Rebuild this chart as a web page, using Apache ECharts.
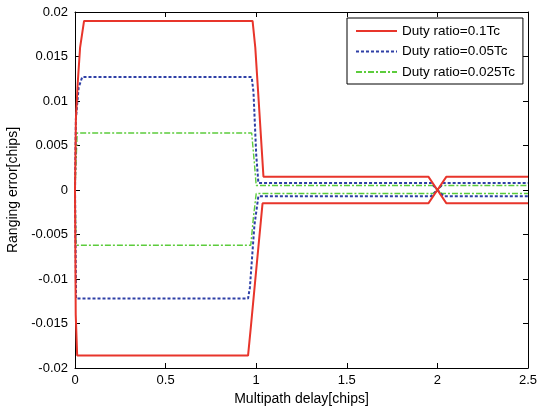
<!DOCTYPE html>
<html><head><meta charset="utf-8">
<script src="https://cdn.jsdelivr.net/npm/echarts@6/dist/echarts.min.js"></script>
<style>html,body{margin:0;padding:0;background:#fff}#c{width:540px;height:410px}</style>
</head><body><div id="c"></div>
<script>
const seriesNames = ['Duty ratio=0.1Tc', 'Duty ratio=0.05Tc', 'Duty ratio=0.025Tc'];
const xTicks = [0, 0.5, 1, 1.5, 2, 2.5];
const yTicks = [-0.02, -0.015, -0.01, -0.005, 0, 0.005, 0.01, 0.015, 0.02];

const redUpX = [0, 0.005, 0.015, 0.028, 0.05, 0.98, 0.995, 1.02, 1.04, 1.95, 2.0, 2.05, 2.5];
const redUpY = [0, 0.008, 0.012, 0.016, 0.019, 0.019, 0.016, 0.008, 0.0015, 0.0015, 0, 0.0015, 0.0015];
const redLoX = [0, 0.004, 0.012, 0.955, 0.97, 1.0, 1.035, 1.95, 2.0, 2.05, 2.5];
const redLoY = [0, -0.014, -0.0186, -0.0186, -0.0155, -0.009, -0.0015, -0.0015, 0, -0.0015, -0.0015];
const blueUpX = [0, 0.005, 0.02, 0.04, 0.975, 0.985, 1.0, 1.012, 1.965, 2.0, 2.035, 2.5];
const blueUpY = [0, 0.008, 0.0115, 0.0127, 0.0127, 0.011, 0.004, 0.0008, 0.0008, 0, 0.0008, 0.0008];
const blueLoX = [0, 0.006, 0.955, 0.965, 0.99, 1.012, 1.965, 2.0, 2.035, 2.5];
const blueLoY = [0, -0.0122, -0.0122, -0.011, -0.004, -0.0007, -0.0007, 0, -0.0007, -0.0007];
const greenUpX = [0, 0.012, 0.975, 0.99, 1.0, 1.975, 2.0, 2.025, 2.5];
const greenUpY = [0, 0.0064, 0.0064, 0.003, 0.0005, 0.0005, 0, 0.0005, 0.0005];
const greenLoX = [0, 0.006, 0.97, 0.985, 1.0, 1.975, 2.0, 2.025, 2.5];
const greenLoY = [0, -0.0062, -0.0062, -0.003, -0.0004, -0.0004, 0, -0.0004, -0.0004];

const colors = ['#e8352b', '#2e3fa6', '#5ccc3c'];
const dashes = ['solid', [3, 2], [6, 2, 2, 2]];
const widths = [2, 2, 1.4];

function pts(xs, ys) { return xs.map((x, i) => [x, ys[i]]); }
const curves = [
  [0, redUpX, redUpY], [0, redLoX, redLoY],
  [1, blueUpX, blueUpY], [1, blueLoX, blueLoY],
  [2, greenUpX, greenUpY], [2, greenLoX, greenLoY]
];
const font = 'Liberation Sans, Arial, sans-serif';
const chart = echarts.init(document.getElementById('c'));
const axisLine = { show: true, onZero: false, lineStyle: { color: '#000', width: 1 } };
const tick = { show: true, inside: true, length: 5, lineStyle: { color: '#000' } };
const tickFmt = v => String(parseFloat(v.toFixed(4)));
chart.setOption({
  animation: false,
  color: colors,
  grid: { left: 75, right: 12, top: 12, bottom: 42, containLabel: false, outerBoundsMode: 'none' },
  legend: {
    orient: 'vertical', left: 347, top: 18,
    padding: [6, 8, 5, 8], itemGap: 6.5, itemWidth: 41, itemHeight: 14,
    backgroundColor: '#fff', borderColor: '#000', borderWidth: 1,
    itemStyle: { opacity: 0 },
    textStyle: { fontFamily: font, fontSize: 13.5, color: '#000', padding: [0, 0, 0, 0] },
    data: seriesNames
  },
  xAxis: [
    { type: 'value', min: 0, max: 2.5, interval: 0.5, axisLine, axisTick: tick,
      splitLine: { show: false },
      axisLabel: { color: '#000', fontFamily: font, fontSize: 13, margin: 6, formatter: tickFmt },
      name: 'Multipath delay[chips]', nameLocation: 'middle', nameGap: 23,
      nameTextStyle: { fontFamily: font, fontSize: 14, color: '#000' } },
    { type: 'value', position: 'top', min: 0, max: 2.5, interval: 0.5, axisLine, axisTick: tick,
      splitLine: { show: false }, axisLabel: { show: false } }
  ],
  yAxis: [
    { type: 'value', min: -0.02, max: 0.02, interval: 0.005, axisLine, axisTick: tick,
      splitLine: { show: false },
      axisLabel: { color: '#000', fontFamily: font, fontSize: 13, margin: 7, formatter: tickFmt },
      name: 'Ranging error[chips]', nameLocation: 'middle', nameGap: 47,
      nameTextStyle: { fontFamily: font, fontSize: 14, color: '#000' } },
    { type: 'value', position: 'right', min: -0.02, max: 0.02, interval: 0.005, axisLine, axisTick: tick,
      splitLine: { show: false }, axisLabel: { show: false } }
  ],
  series: curves.map(([k, xs, ys]) => ({
    name: seriesNames[k], type: 'line', symbol: 'none', data: pts(xs, ys),
    lineStyle: { color: colors[k], width: widths[k], type: dashes[k] },
    itemStyle: { color: colors[k] }, z: 10 - k
  }))
});
</script></body></html>
